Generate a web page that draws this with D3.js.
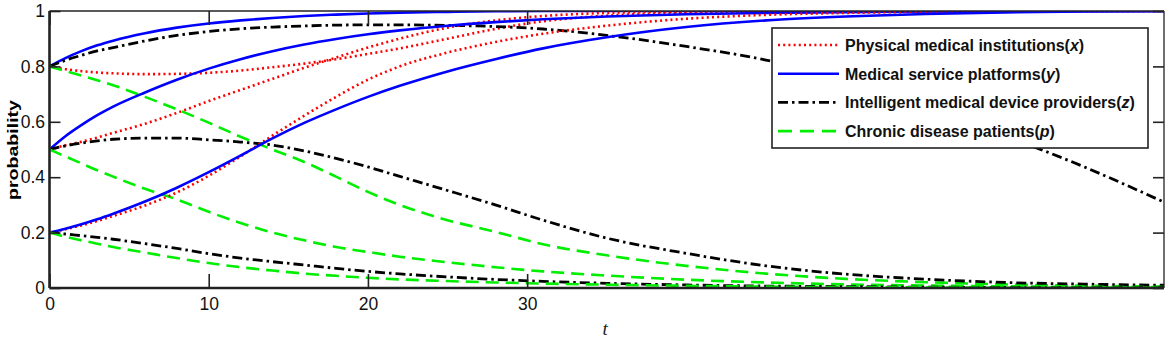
<!DOCTYPE html>
<html>
<head>
<meta charset="utf-8">
<script src="https://cdn.jsdelivr.net/npm/d3@7"></script>
<style>
  body { margin: 0; background: #fff; }
  svg { display: block; }
</style>
</head>
<body>
<div id="chart"></div>
<script>
// time grid shared by every curve
const tGrid = [0, 1, 2, 3, 4, 6, 8, 10, 12, 14, 16, 18, 20, 22, 25, 28, 31, 35, 40, 45, 50, 55, 60, 65, 70];

// Physical medical institutions (x)
const physical08 = [0.8, 0.79, 0.783, 0.778, 0.775, 0.772, 0.773, 0.777, 0.785, 0.797, 0.81, 0.826, 0.845, 0.865, 0.9, 0.935, 0.963, 0.983, 0.994, 0.998, 1, 1, 1, 1, 1];
const physical05 = [0.5, 0.515, 0.528, 0.543, 0.56, 0.593, 0.632, 0.675, 0.715, 0.755, 0.795, 0.832, 0.868, 0.9, 0.94, 0.966, 0.982, 0.993, 0.998, 1, 1, 1, 1, 1, 1];
const physical02 = [0.2, 0.212, 0.226, 0.242, 0.26, 0.298, 0.345, 0.405, 0.475, 0.55, 0.622, 0.69, 0.752, 0.8, 0.85, 0.888, 0.918, 0.947, 0.972, 0.986, 0.993, 0.997, 0.999, 1, 1];

// Medical service platforms (y)
const platform08 = [0.8, 0.83, 0.855, 0.876, 0.893, 0.92, 0.94, 0.955, 0.966, 0.975, 0.982, 0.987, 0.991, 0.994, 0.997, 0.999, 1, 1, 1, 1, 1, 1, 1, 1, 1];
const platform05 = [0.5, 0.548, 0.588, 0.624, 0.655, 0.706, 0.752, 0.792, 0.826, 0.855, 0.879, 0.899, 0.916, 0.93, 0.947, 0.96, 0.97, 0.98, 0.988, 0.993, 0.996, 0.998, 1, 1, 1];
const platform02 = [0.2, 0.214, 0.23, 0.248, 0.268, 0.312, 0.362, 0.418, 0.478, 0.54, 0.596, 0.645, 0.69, 0.73, 0.782, 0.826, 0.865, 0.905, 0.942, 0.966, 0.98, 0.989, 0.995, 0.998, 1];

// Intelligent medical device providers (z)
const provider08 = [0.8, 0.822, 0.84, 0.856, 0.868, 0.892, 0.912, 0.926, 0.936, 0.942, 0.946, 0.949, 0.95, 0.95, 0.948, 0.944, 0.935, 0.912, 0.872, 0.823, 0.75, 0.66, 0.55, 0.437, 0.31];
const provider05 = [0.5, 0.513, 0.523, 0.531, 0.537, 0.541, 0.541, 0.535, 0.527, 0.516, 0.495, 0.468, 0.437, 0.403, 0.352, 0.3, 0.245, 0.18, 0.125, 0.08, 0.05, 0.032, 0.02, 0.014, 0.01];
const provider02 = [0.2, 0.195, 0.189, 0.183, 0.176, 0.16, 0.143, 0.124, 0.108, 0.095, 0.083, 0.071, 0.06, 0.051, 0.04, 0.031, 0.024, 0.017, 0.011, 0.007, 0.005, 0.003, 0.002, 0.001, 0.001];

// Chronic disease patients (p)
const patient08 = [0.8, 0.783, 0.767, 0.75, 0.732, 0.69, 0.645, 0.597, 0.546, 0.5, 0.455, 0.402, 0.347, 0.3, 0.245, 0.203, 0.158, 0.118, 0.08, 0.052, 0.033, 0.021, 0.013, 0.008, 0.005];
const patient05 = [0.5, 0.475, 0.45, 0.425, 0.402, 0.358, 0.32, 0.275, 0.235, 0.2, 0.172, 0.148, 0.13, 0.113, 0.093, 0.075, 0.06, 0.045, 0.03, 0.02, 0.013, 0.009, 0.006, 0.004, 0.003];
const patient02 = [0.2, 0.185, 0.172, 0.16, 0.148, 0.128, 0.108, 0.09, 0.075, 0.063, 0.052, 0.044, 0.037, 0.031, 0.025, 0.02, 0.016, 0.012, 0.008, 0.005, 0.003, 0.002, 0.001, 0.001, 0.001];

const xTicks = [0, 10, 20, 30];
const yTicks = [0, 0.2, 0.4, 0.6, 0.8, 1];
const legendNames = ["Physical medical institutions", "Medical service platforms", "Intelligent medical device providers", "Chronic disease patients"];
const legendVars = ["x", "y", "z", "p"];

const width = 1170, height = 339;
const margin = { top: 11, right: 6, bottom: 51, left: 49.5 };
const w = width - margin.left - margin.right,
  h = height - margin.top - margin.bottom;

const styles = [
  { color: "#ff0000", dash: "2,3.2", width: 2.6 },
  { color: "#0000ff", dash: null, width: 2.6 },
  { color: "#000000", dash: "10,4,2.5,4", width: 2.8 },
  { color: "#00ee00", dash: "13,7", width: 2.6 }
];

// draw order: per starting value x, y, z, p
const curves = [
  [physical08, 0], [platform08, 1], [provider08, 2], [patient08, 3],
  [physical05, 0], [platform05, 1], [provider05, 2], [patient05, 3],
  [physical02, 0], [platform02, 1], [provider02, 2], [patient02, 3]
];

const svg = d3.select("#chart").append("svg")
  .attr("width", width)
  .attr("height", height);

const g = svg.append("g")
  .attr("transform", "translate(" + margin.left + "," + margin.top + ")");

const xScale = d3.scaleLinear().domain([0, 70]).range([0, w]);
const yScale = d3.scaleLinear().domain([0, 1]).range([h, 0]);

svg.append("defs").append("clipPath").attr("id", "plot-clip")
  .append("rect").attr("x", 0).attr("y", 0).attr("width", w).attr("height", h);

const line = d3.line()
  .x((d, i) => xScale(tGrid[i]))
  .y(d => yScale(d))
  .curve(d3.curveMonotoneX);

const lines = g.append("g").attr("clip-path", "url(#plot-clip)");
lines.selectAll("path")
  .data(curves)
  .join("path")
  .attr("fill", "none")
  .attr("stroke", d => styles[d[1]].color)
  .attr("stroke-width", d => styles[d[1]].width)
  .attr("stroke-dasharray", d => styles[d[1]].dash)
  .attr("d", d => line(d[0]));

// axes, ticks inward
const xAxis = d3.axisBottom(xScale).tickValues(xTicks).tickSize(-14).tickPadding(10).tickFormat(d3.format("d"));
const xAxisTop = d3.axisTop(xScale).tickValues(xTicks).tickSize(-14).tickFormat("");
const yAxis = d3.axisLeft(yScale).tickValues(yTicks).tickSize(-11).tickPadding(4.5).tickFormat(d => d == 0 || d == 1 ? d : d.toFixed(1));
const yAxisRight = d3.axisRight(yScale).tickValues(yTicks).tickSize(-11).tickFormat("");

g.append("g").attr("transform", "translate(0," + h + ")").call(xAxis);
g.append("g").call(xAxisTop);
g.append("g").call(yAxis);
g.append("g").attr("transform", "translate(" + w + ",0)").call(yAxisRight);
g.selectAll(".domain").remove();
g.selectAll(".tick line").attr("stroke", "#222").attr("stroke-width", 1.6);
g.selectAll(".tick text")
  .attr("font-family", "Liberation Sans, Arial, sans-serif")
  .attr("font-size", 17.5)
  .attr("fill", "#111");

// box
g.append("line").attr("x1", 0).attr("x2", w).attr("y1", 0).attr("y2", 0).attr("stroke", "#222").attr("stroke-width", 1.6);
g.append("line").attr("x1", w).attr("x2", w).attr("y1", 0).attr("y2", h).attr("stroke", "#222").attr("stroke-width", 1.3);
g.append("line").attr("x1", 0).attr("x2", w).attr("y1", h).attr("y2", h).attr("stroke", "#222").attr("stroke-width", 2.6);
g.append("line").attr("x1", 0).attr("x2", 0).attr("y1", 0).attr("y2", h).attr("stroke", "#222").attr("stroke-width", 2.6);

// axis titles
svg.append("text")
  .attr("transform", "translate(18,150) rotate(-90)")
  .attr("text-anchor", "middle")
  .attr("font-family", "Liberation Sans, Arial, sans-serif")
  .attr("font-weight", "bold")
  .attr("font-size", 15)
  .attr("textLength", 100)
  .attr("lengthAdjust", "spacingAndGlyphs")
  .text("probability");

svg.append("text")
  .attr("x", margin.left + xScale(34.9))
  .attr("y", 335)
  .attr("text-anchor", "middle")
  .attr("font-family", "Liberation Serif, serif")
  .attr("font-style", "italic")
  .attr("font-size", 19)
  .attr("fill", "#222")
  .text("t");

// legend
const legend = svg.append("g").attr("transform", "translate(772,28)");
legend.append("rect")
  .attr("width", 376).attr("height", 120)
  .attr("fill", "#fff").attr("stroke", "#222").attr("stroke-width", 1.6);

const rows = legend.selectAll("g.row")
  .data(legendNames)
  .join("g")
  .attr("class", "row")
  .attr("transform", (d, i) => "translate(0," + (17 + i * 28.7) + ")");

rows.append("line")
  .attr("x1", 6).attr("x2", 67)
  .attr("stroke", (d, i) => styles[i].color)
  .attr("stroke-width", (d, i) => styles[i].width)
  .attr("stroke-dasharray", (d, i) => i == 3 ? "14,8" : styles[i].dash);

const labels = rows.append("text")
  .attr("x", 73)
  .attr("y", 6)
  .attr("font-family", "Liberation Sans, Arial, sans-serif")
  .attr("font-weight", "bold")
  .attr("font-size", 16)
  .attr("fill", "#111");
labels.append("tspan").text(d => d + "(");
labels.append("tspan").attr("font-style", "italic").text((d, i) => legendVars[i]);
labels.append("tspan").text(")");
</script>
</body>
</html>
